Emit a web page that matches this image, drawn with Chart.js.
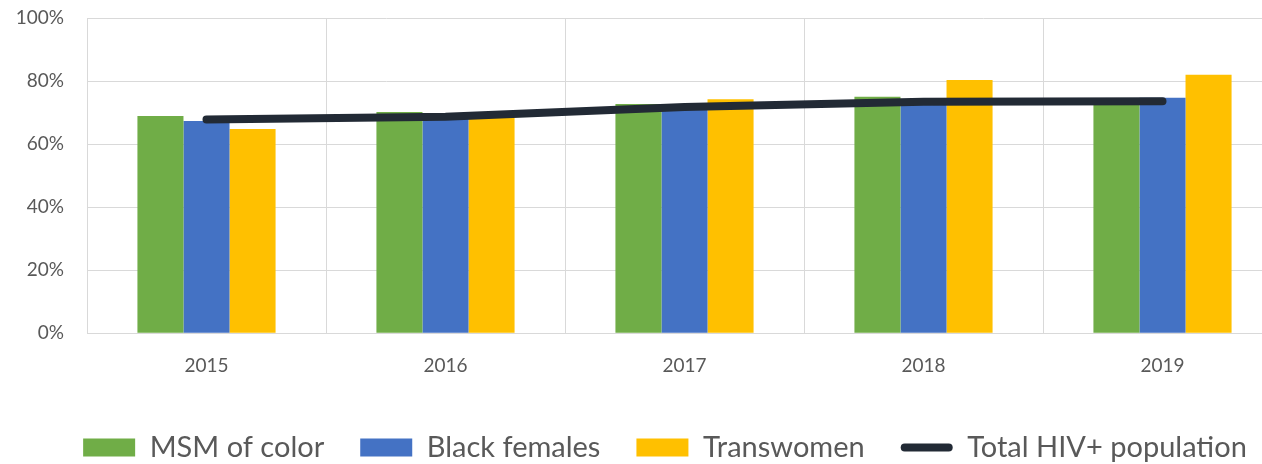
<!DOCTYPE html>
<html>
<head>
<meta charset="utf-8">
<script src="https://cdn.jsdelivr.net/npm/chart.js@4/dist/chart.umd.min.js"></script>
<style>
  html, body { margin: 0; padding: 0; background: #fff; overflow: hidden; }
  .chartRoot { position: relative; width: 1330px; height: 472px; }
</style>
</head>
<body>
<div class="chartRoot"><canvas id="chart"></canvas></div>
<script>
const years = ['2015', '2016', '2017', '2018', '2019'];
const msmOfColor = [68.9, 70.2, 72.7, 75.0, 73.3];
const blackFemales = [67.3, 69.0, 71.5, 73.0, 74.7];
const transwomen = [64.8, 68.3, 74.2, 80.3, 82.0];
const totalHivPopulation = [67.8, 68.7, 71.8, 73.4, 73.6];
const percentTicks = [0, 20, 40, 60, 80, 100];

const textColor = '#595959';
const gridColor = '#d9d9d9';
const lineColor = '#222a35';

// legend is centred under the whole picture, not only the plot, so nudge it
const legendShift = {
  id: 'legendShift',
  afterLayout(chart) {
    chart.legend.left += 24;
    chart.legend.right += 24;
  },
};

// thick rounded line swatch for the line dataset in the legend
const lineSwatch = {
  id: 'lineSwatch',
  afterDraw(chart) {
    const legend = chart.legend;
    const index = legend.legendItems.findIndex(item => item.datasetIndex === 3);
    const box = legend.legendHitBoxes[index];
    if (!box) return;
    const {ctx} = chart;
    const {font, boxWidth} = legend.options.labels;
    const y = box.top + font.size / 2;
    ctx.save();
    ctx.strokeStyle = lineColor;
    ctx.lineWidth = 8;
    ctx.lineCap = 'round';
    ctx.beginPath();
    ctx.moveTo(box.left + 4, y);
    ctx.lineTo(box.left + boxWidth - 4, y);
    ctx.stroke();
    ctx.restore();
  },
};

const context = document.getElementById('chart').getContext('2d');
new Chart(context, {
  type: 'bar',
  data: {
    labels: years,
    datasets: [
      {label: 'MSM of color', data: msmOfColor, backgroundColor: '#70ad47', order: 1},
      {label: 'Black females', data: blackFemales, backgroundColor: '#4472c4', order: 1},
      {label: 'Transwomen', data: transwomen, backgroundColor: '#ffc000', order: 1},
      {
        type: 'line',
        label: 'Total HIV+ population',
        data: totalHivPopulation,
        borderColor: lineColor,
        backgroundColor: lineColor,
        borderWidth: 8,
        borderCapStyle: 'round',
        borderJoinStyle: 'round',
        pointRadius: 0,
        tension: 0,
        order: 0,
      },
    ],
  },
  options: {
    responsive: true,
    maintainAspectRatio: false,
    animation: false,
    layout: {padding: {left: 0, right: 48, top: 18, bottom: 0}},
    datasets: {
      bar: {barPercentage: 1, categoryPercentage: 0.578},
    },
    scales: {
      x: {
        grid: {color: gridColor, lineWidth: 1, drawTicks: false, offset: true},
        border: {color: gridColor},
        ticks: {color: textColor, font: {family: 'Lato', size: 19}, padding: 21},
        afterFit(scale) { scale.height -= 1; },
      },
      y: {
        min: 0,
        max: 100,
        afterBuildTicks(scale) { scale.ticks = percentTicks.map(value => ({value})); },
        afterFit(scale) {
          scale.width = 87;
          scale.paddingTop = 0;
        },
        grid: {color: gridColor, lineWidth: 1, drawTicks: false},
        border: {color: gridColor},
        ticks: {
          color: textColor,
          font: {family: 'Lato', size: 19},
          padding: 23,
          callback: value => value + '%',
        },
      },
    },
    plugins: {
      tooltip: {enabled: false},
      legend: {
        position: 'bottom',
        labels: {
          color: textColor,
          font: {family: 'Lato', size: 29},
          boxWidth: 52,
          boxHeight: 18,
          padding: 36,
          sort: (a, b) => a.datasetIndex - b.datasetIndex,
          generateLabels(chart) {
            const items = Chart.defaults.plugins.legend.labels.generateLabels(chart);
            items.forEach(item => {
              if (item.datasetIndex === 3) {
                item.fillStyle = 'rgba(0,0,0,0)';
                item.strokeStyle = 'rgba(0,0,0,0)';
                item.lineWidth = 0;
              }
            });
            return items;
          },
        },
      },
    },
  },
  plugins: [legendShift, lineSwatch],
});
</script>
</body>
</html>
